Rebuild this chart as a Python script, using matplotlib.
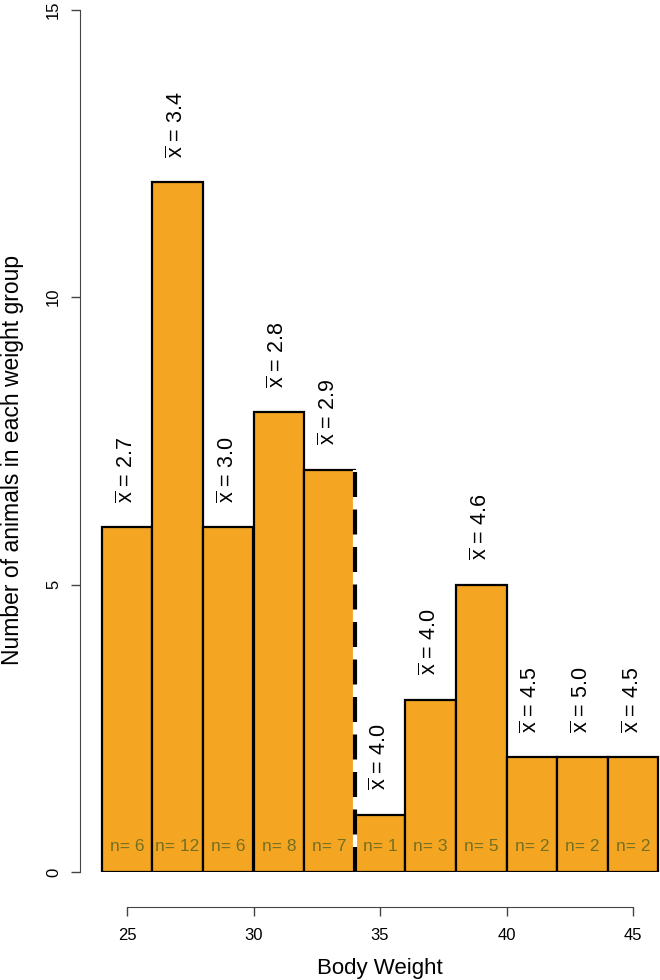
import matplotlib
matplotlib.use("Agg")
import matplotlib.pyplot as plt
import numpy as np

plt.rcParams['font.family'] = ['Liberation Sans', 'DejaVu Sans']
plt.rcParams['mathtext.fontset'] = 'custom'
plt.rcParams['mathtext.rm'] = 'Liberation Sans'
plt.rcParams['mathtext.it'] = 'Liberation Sans'

# Data
bin_edges = [24, 26, 28, 30, 32, 34, 36, 38, 40, 42, 44, 46]
counts = [6, 12, 6, 8, 7, 1, 3, 5, 2, 2, 2]
means = ["2.7", "3.4", "3.0", "2.8", "2.9", "4.0", "4.0", "4.6", "4.5", "5.0", "4.5"]
cut_value = 34
x_ticks = [25, 30, 35, 40, 45]
y_ticks = [0, 5, 10, 15]

W, H = 660, 980
PT = 72 / 100  # points per pixel
fig = plt.figure(figsize=(W / 100, H / 100), dpi=100)
px_per_unit = 25.3
left_px, right_px = 80, 660
x0_px = 101.7
xmin = 24 - (x0_px - left_px) / px_per_unit
xmax = 24 + (right_px - x0_px) / px_per_unit
bottom_px = 872
top_px = 9.5
ax = fig.add_axes([left_px / W, (H - bottom_px) / H, (right_px - left_px) / W, (bottom_px - top_px) / H])
ax.set_xlim(xmin, xmax)
ax.set_ylim(0, 15)

fill = '#F4A522'
lefts = np.array(bin_edges[:-1])
widths = np.diff(bin_edges)
ax.bar(lefts, counts, width=widths, align='edge', color=fill, edgecolor='black', linewidth=1.6, zorder=2)

# dashed cut line
ax.plot([cut_value, cut_value], [0, counts[4]], color='white', linewidth=3, zorder=3, solid_capstyle='butt')
ax.plot([cut_value, cut_value], [0, counts[4]], color='black', linewidth=3, linestyle=(0, (6, 3)), zorder=4)

for l, w, c, m in zip(lefts, widths, counts, means):
    xc = l + w / 2
    ax.text(xc, 0.45, f"n= {c}", ha='center', va='center', fontsize=12.5, color='#757020', zorder=5)
    ax.text(xc, c + 0.42, r"$\overline{\mathrm{x}}$" + f" = {m}", rotation=90, ha='center', va='bottom',
            fontsize=15.5, color='black', zorder=5)

for s in ['top', 'right']:
    ax.spines[s].set_visible(False)
ax.spines['left'].set_bounds(0, 15)
ax.spines['left'].set_color('#444444')
ax.spines['bottom'].set_bounds(25, 45)
ax.spines['bottom'].set_position(('outward', 35 * PT))
ax.spines['bottom'].set_color('#444444')
ax.set_xticks(x_ticks)
ax.set_yticks(y_ticks)
ax.set_yticklabels([str(v) for v in y_ticks], rotation=90, va='center')
ax.tick_params(axis='both', length=9 * PT, width=1, color='#444444', labelsize=12)
ax.tick_params(axis='x', pad=12 * PT)
ax.tick_params(axis='y', pad=10 * PT)

fig.text(0.5 * (x0_px + 658.3) / W, 1 - 968 / H, "Body Weight", ha='center', va='center', fontsize=16)
fig.text(13 / W, 1 - 460 / H, "Number of animals in each weight group", rotation=90,
         ha='center', va='center', fontsize=16.5)

fig.savefig("out.png", dpi=100)
